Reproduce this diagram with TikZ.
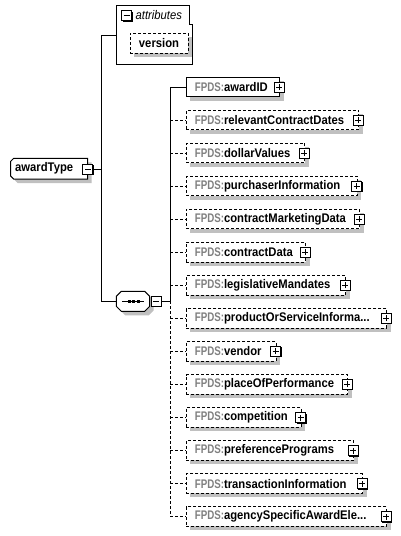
\documentclass[tikz,border=0pt]{standalone}
\usepackage{fontspec}
\setmainfont[FakeStretch=0.9]{Liberation Sans}
\newfontfamily\pfxfont[FakeStretch=0.78]{Liberation Sans}
\usetikzlibrary{shadows}
\definecolor{shadowgray}{RGB}{192,192,192}
\definecolor{prefixgray}{RGB}{128,128,128}
\newcommand\pfx{\pfxfont\bfseries\color{prefixgray}}
\newcommand\mychild[5]{%
  \pgfmathsetmacro\mywid{#3-185.7}%
  \pgfmathsetmacro\mytw{#3-185.7-17.2}%
  \node[childbox,#4,minimum width=\mywid pt,text width=\mytw pt,anchor=west] (c#1) at (185.7,#2) {{\pfx FPDS:}\textbf{#5}};
  \node[expbox,plussign] (c#1p) at (#3,#2) {};
  \coordinate (v#1) at (170.3,#2);
  \draw[conn,#4] (v#1) -- (c#1.west);
}
\begin{document}
\begin{tikzpicture}[x=1pt,y=-1pt,
  txt/.style={font=\fontsize{12.5}{14}\selectfont},
  conn/.style={line width=1pt,black},
  dashbox/.style={dash pattern=on 3pt off 2pt},
  childbox/.style={txt,draw,line width=1pt,fill=white,inner xsep=8.6pt,inner ysep=0pt,
    minimum height=19.5pt,align=left,
    drop shadow={shadow xshift=4pt,shadow yshift=-4pt,fill=shadowgray,opacity=1}},
  expbox/.style={draw,line width=1pt,fill=white,minimum size=10pt,inner sep=0pt,
    drop shadow={shadow xshift=1pt,shadow yshift=-1pt,fill=black,opacity=1}},
  plussign/.style={path picture={
    \draw[line width=1pt] ([xshift=-3pt]path picture bounding box.center) -- ([xshift=3pt]path picture bounding box.center);
    \draw[line width=1pt] ([yshift=-3pt]path picture bounding box.center) -- ([yshift=3pt]path picture bounding box.center);}},
  minussign/.style={path picture={
    \draw[line width=1pt] ([xshift=-3pt]path picture bounding box.center) -- ([xshift=3pt]path picture bounding box.center);}}
]
\fill[white] (0,0) rectangle (401,536);
\useasboundingbox (0,0) rectangle (401,536);

% attributes box
\draw[line width=1pt,fill=white] (116.3,5.3) -- (189.5,5.3) -- (189.5,24.3) -- (192.7,24.3) -- (192.7,64) -- (116.3,64) -- cycle;
\node[expbox,minussign] (attrm) at (126.5,15.5) {};
\node[txt,anchor=west,inner sep=0pt,font=\fontsize{12.5}{14}\selectfont\itshape] (attrt) at (135.5,15.5) {attributes};
\node[txt,draw,line width=1pt,dashbox,fill=white,minimum width=58pt,minimum height=20pt,inner sep=0pt,
  drop shadow={shadow xshift=4pt,shadow yshift=-4pt,fill=shadowgray,opacity=1}] (version) at (159,43) {\textbf{version}};
\coordinate (attrL) at (116.3,35);

% awardType
\fill[shadowgray] (17.7,162.3) -- (91.7,162.3) -- (91.7,183) -- (17.7,183) -- (14.7,180) -- (14.7,165.3) -- cycle;
\draw[line width=1pt,fill=white] (13.7,158.3) -- (87.7,158.3) -- (87.7,179) -- (13.7,179) -- (10.7,176) -- (10.7,161.3) -- cycle;
\node[txt,anchor=west,inner sep=0pt] (awardType) at (15,168.7) {\textbf{awardType}};
\node[expbox,minussign] (atm) at (87.8,169) {};

% sequence
\fill[shadowgray] (125.3,295.3) -- (148.7,295.3) -- (153.7,300.3) -- (153.7,310.3) -- (148.7,315.3) -- (125.3,315.3) -- (120.3,310.3) -- (120.3,300.3) -- cycle;
\draw[line width=1pt,fill=white] (121.3,291.3) -- (144.7,291.3) -- (149.7,296.3) -- (149.7,306.3) -- (144.7,311.3) -- (121.3,311.3) -- (116.3,306.3) -- (116.3,296.3) -- cycle;
\coordinate (seqL) at (116.3,301.3);
\draw[line width=1pt] (122,301.3) -- (144,301.3);
\fill (127.5,299.8) rectangle ++(3,3);
\fill (132.3,299.8) rectangle ++(3,3);
\fill (136.8,299.8) rectangle ++(3,3);
\node[expbox,minussign] (seqm) at (156,301.3) {};

% main connectors
\coordinate (jtop) at (101.3,35);
\coordinate (jmid) at (101.3,169);
\coordinate (jbot) at (101.3,301.3);
\draw[conn] (attrL) -- (jtop) -- (jbot) -- (seqL);
\draw[conn] (atm.east) -- (jmid);
\coordinate (vj) at (170.3,301.3);
\draw[conn] (seqm.east) -- (vj);

% children
\mychild{1}{87.0}{279.4}{solid}{awardID}
\mychild{2}{120.05}{358.2}{dashbox}{relevantContractDates}
\mychild{3}{153.1}{304.2}{dashbox}{dollarValues}
\mychild{4}{186.15}{356.7}{dashbox}{purchaserInformation}
\mychild{5}{219.2}{359}{dashbox}{contractMarketingData}
\mychild{6}{252.25}{305}{dashbox}{contractData}
\mychild{7}{285.3}{345.2}{dashbox}{legislativeMandates}
\mychild{8}{318.35}{386}{dashbox}{productOrServiceInforma...}
\mychild{9}{351.4}{275.5}{dashbox}{vendor}
\mychild{10}{384.45}{347.3}{dashbox}{placeOfPerformance}
\mychild{11}{417.5}{300.5}{dashbox}{competition}
\mychild{12}{450.55}{353.2}{dashbox}{preferencePrograms}
\mychild{13}{483.6}{362}{dashbox}{transactionInformation}
\mychild{14}{516.65}{386}{dashbox}{agencySpecificAwardEle...}

\draw[conn] (v1) -- (vj);
\draw[conn,dashbox] (vj) -- (v14);
\end{tikzpicture}
\end{document}
